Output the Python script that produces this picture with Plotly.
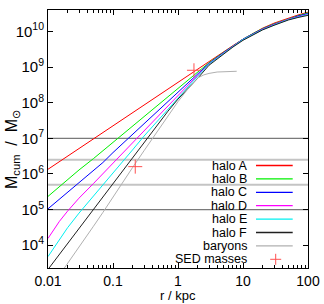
import plotly.graph_objects as go

# ---- data ----
r_kpc = [0.01, 0.015, 0.02, 0.03, 0.05, 0.07, 0.1, 0.15, 0.2, 0.3, 0.5, 0.7, 1, 1.5, 2,
         3, 5, 7, 10, 15, 20, 30, 50, 70, 100]

halo_A = [1.35e6, 2.22e6, 3.16e6, 5.18e6, 9.68e6, 1.46e7, 2.26e7, 3.72e7, 5.30e7, 8.69e7,
          1.62e8, 2.45e8, 3.80e8, 6.24e8, 8.71e8, 1.41e9, 2.63e9, 3.98e9, 6.03e9, 9.33e9,
          1.23e10, 1.70e10, 2.40e10, 2.88e10, 3.47e10]
halo_B = [2.34e5, 4.47e5, 7.08e5, 1.29e6, 2.69e6, 4.47e6, 7.59e6, 1.41e7, 2.19e7, 4.07e7,
          8.91e7, 1.45e8, 2.51e8, 4.57e8, 7.08e8, 1.32e9, 2.57e9, 3.89e9, 6.03e9, 9.12e9,
          1.20e10, 1.62e10, 2.29e10, 2.75e10, 3.31e10]
halo_C = [1.05e5, 1.95e5, 3.02e5, 5.75e5, 1.26e6, 2.09e6, 3.98e6, 7.94e6, 1.29e7, 2.57e7,
          6.17e7, 1.07e8, 1.95e8, 3.89e8, 6.31e8, 1.26e9, 2.51e9, 3.80e9, 6.03e9, 8.91e9,
          1.17e10, 1.58e10, 2.24e10, 2.69e10, 3.16e10]
halo_D = [1.55e4, 4.68e4, 9.02e4, 2.09e5, 5.37e5, 1.02e6, 2.02e6, 4.37e6, 7.59e6, 1.66e7,
          4.37e7, 8.32e7, 1.62e8, 3.47e8, 5.89e8, 1.23e9, 2.51e9, 3.80e9, 5.89e9, 8.91e9,
          1.15e10, 1.55e10, 2.19e10, 2.57e10, 3.02e10]
halo_E = [4.79e3, 1.48e4, 3.09e4, 7.94e4, 2.34e5, 4.79e5, 1.05e6, 2.51e6, 4.73e6, 1.15e7,
          3.31e7, 6.61e7, 1.35e8, 3.09e8, 5.50e8, 1.20e9, 2.45e9, 3.72e9, 5.89e9, 8.71e9,
          1.12e10, 1.51e10, 2.14e10, 2.51e10, 2.95e10]
halo_F = [2.09e3, 5.56e3, 1.11e4, 2.95e4, 1.02e5, 2.29e5, 5.43e5, 1.45e6, 2.88e6, 7.76e6,
          2.63e7, 5.75e7, 1.26e8, 2.75e8, 4.79e8, 1.12e9, 2.34e9, 3.63e9, 5.62e9, 8.51e9,
          1.10e10, 1.48e10, 2.09e10, 2.45e10, 2.82e10]

r_baryons = [0.015, 0.02, 0.03, 0.05, 0.07, 0.1, 0.15, 0.2, 0.3, 0.5, 0.7, 1, 1.5, 2,
             2.5, 3, 4, 5, 8]
baryons = [1.45e3, 3.02e3, 8.91e3, 3.39e4, 8.32e4, 2.29e5, 6.92e5, 1.51e6, 4.47e6, 1.78e7,
           4.37e7, 1.07e8, 2.75e8, 4.90e8, 6.03e8, 6.61e8, 7.24e8, 7.41e8, 7.59e8]

sed_r = [0.22, 1.76]
sed_mass = [1.6e6, 8.1e8]

ref_levels = [1e7, 2.5e6, 5e5, 1e5]
ref_kinds = ["dark", "light", "light", "dark"]

series_names = ["halo A", "halo B", "halo C", "halo D", "halo E", "halo F", "baryons"]
series_colors = ["#ff0000", "#00f000", "#0000ff", "#ff00ff", "#00f0f0", "#202020", "#b0b0b0"]
sed_color = "#ff5050"

x_ticks = [0.01, 0.1, 1, 10, 100]
x_ticktext = ["0.01", "0.1", "1", "10", "100"]
y_ticks = [1e4, 1e5, 1e6, 1e7, 1e8, 1e9, 1e10]
y_ticktext = ["10<sup>4</sup>", "10<sup>5</sup>", "10<sup>6</sup>", "10<sup>7</sup>",
              "10<sup>8</sup>", "10<sup>9</sup>", "10<sup>10</sup>"]

FONT = "Liberation Sans, Arial, Helvetica, sans-serif"

fig = go.Figure()

# reference horizontal lines (data coordinates in y)
for lvl, kind in zip(ref_levels, ref_kinds):
    fig.add_trace(go.Scatter(
        x=[x_ticks[0], x_ticks[-1]], y=[lvl, lvl], mode="lines",
        line=dict(color="#7a7a7a" if kind == "dark" else "#c4c4c4",
                  width=1.2 if kind == "dark" else 2.0),
        showlegend=False, hoverinfo="skip"))

curves = [halo_A, halo_B, halo_C, halo_D, halo_E, halo_F]
for name, col, ys in zip(series_names[:6], series_colors[:6], curves):
    fig.add_trace(go.Scatter(x=r_kpc, y=ys, mode="lines", name=name,
                             line=dict(color=col, width=1.0), showlegend=False))
fig.add_trace(go.Scatter(x=r_baryons, y=baryons, mode="lines", name="baryons",
                         line=dict(color=series_colors[6], width=1.0), showlegend=False))
fig.add_trace(go.Scatter(x=sed_r, y=sed_mass, mode="markers", name="SED masses",
                         marker=dict(symbol="cross-thin", size=10,
                                     line=dict(color=sed_color, width=1)),
                         showlegend=False))

# ---- manual gnuplot-style legend (text left, sample right) ----
L, R, T, B = 48, 16, 10, 36
W, H = 324, 304
pw, ph = W - L - R, H - T - B

def px2x(px):
    return (px - L) / pw

def px2y(py):
    return (H - B - py) / ph

legend_labels = series_names + ["SED masses"]
legend_colors = series_colors + [sed_color]
y0 = 165.5
dy = 13.4
for i, (lab, col) in enumerate(zip(legend_labels, legend_colors)):
    yc = y0 + i * dy
    fig.add_annotation(x=px2x(248.5), y=px2y(yc), xref="paper", yref="paper",
                       text=lab, showarrow=False, xanchor="right", yanchor="middle",
                       font=dict(family=FONT, size=12.5, color="black"))
    if lab == "SED masses":
        fig.add_shape(type="line", xref="paper", yref="paper",
                      x0=px2x(270.2), x1=px2x(281.2), y0=px2y(yc), y1=px2y(yc),
                      line=dict(color=col, width=1))
        fig.add_shape(type="line", xref="paper", yref="paper",
                      x0=px2x(275.7), x1=px2x(275.7), y0=px2y(yc - 5.5), y1=px2y(yc + 5.5),
                      line=dict(color=col, width=1))
    else:
        fig.add_shape(type="line", xref="paper", yref="paper",
                      x0=px2x(256), x1=px2x(292.7), y0=px2y(yc), y1=px2y(yc),
                      line=dict(color=col, width=1.3))

# axis titles
fig.add_annotation(x=px2x(12), y=px2y(150), xref="paper", yref="paper",
                   text="M<sub>cum</sub>&nbsp;&nbsp;/&nbsp;&nbsp;M<sub>⊙</sub>", textangle=-90,
                   showarrow=False, xanchor="center", yanchor="middle",
                   font=dict(family=FONT, size=16, color="black"))
fig.add_annotation(x=px2x(178), y=px2y(295), xref="paper", yref="paper",
                   text="r / kpc", showarrow=False, xanchor="center", yanchor="middle",
                   font=dict(family=FONT, size=13, color="black"))

fig.update_layout(
    width=W, height=H,
    margin=dict(l=L, r=R, t=T, b=B, autoexpand=False),
    paper_bgcolor="white", plot_bgcolor="white",
    font=dict(family=FONT, size=13, color="black"),
    showlegend=False,
)
fig.update_xaxes(
    type="log", range=[-2, 2], showgrid=False, zeroline=False, automargin=False,
    showline=True, linecolor="black", linewidth=1, mirror="ticks",
    ticks="inside", ticklen=5, tickcolor="black",
    tickvals=x_ticks, ticktext=x_ticktext,
    minor=dict(ticks="inside", ticklen=3, tickcolor="black", dtick="D1", showgrid=False),
    tickfont=dict(family=FONT, size=14),
)
fig.update_yaxes(
    type="log", range=[3.36, 10.6], showgrid=False, zeroline=False, automargin=False,
    showline=True, linecolor="black", linewidth=1, mirror="ticks",
    ticks="inside", ticklen=5, tickcolor="black",
    tickvals=y_ticks, ticktext=y_ticktext,
    tickfont=dict(family=FONT, size=15),
)

fig.write_html("out.html", config={"displayModeBar": False, "staticPlot": True},
               post_script="document.body.style.margin='0';document.body.style.overflow='hidden';")
